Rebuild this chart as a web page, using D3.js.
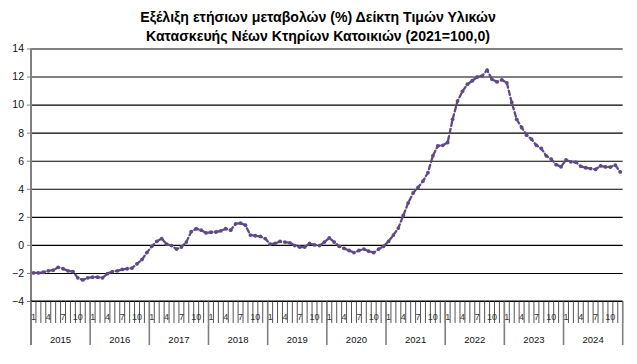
<!DOCTYPE html>
<html><head><meta charset="utf-8">
<script src="https://cdn.jsdelivr.net/npm/d3@7"></script>
<style>body{margin:0;background:#fff;} svg{display:block;}</style>
</head><body><svg id="c" width="637" height="364"></svg>
<script>
const titleLines = [
  "Εξέλιξη ετήσιων μεταβολών (%) Δείκτη Τιμών Υλικών",
  "Κατασκευής Νέων Κτηρίων Κατοικιών (2021=100,0)"
];
const years = [2015, 2016, 2017, 2018, 2019, 2020, 2021, 2022, 2023, 2024];
const monthLabels = ["1", "", "", "4", "", "", "7", "", "", "10", "", ""];
const yTicks = [-4, -2, 0, 2, 4, 6, 8, 10, 12, 14];

const v2015 = [-2.0, -2.0, -1.95, -1.85, -1.8, -1.6, -1.7, -1.85, -1.9, -2.35, -2.5, -2.35];
const v2016 = [-2.3, -2.3, -2.35, -2.05, -1.9, -1.85, -1.75, -1.7, -1.65, -1.35, -1.05, -0.55];
const v2017 = [-0.1, 0.25, 0.45, 0.05, -0.05, -0.3, -0.15, 0.2, 0.95, 1.15, 1.05, 0.85];
const v2018 = [0.9, 0.92, 1.0, 1.15, 1.05, 1.5, 1.55, 1.4, 0.7, 0.65, 0.6, 0.45];
const v2019 = [0.05, 0.1, 0.25, 0.2, 0.15, -0.05, -0.15, -0.15, 0.1, 0.0, -0.05, 0.2];
const v2020 = [0.5, 0.2, -0.1, -0.25, -0.4, -0.55, -0.4, -0.3, -0.45, -0.55, -0.3, -0.1];
const v2021 = [0.25, 0.7, 1.2, 2.1, 3.0, 3.7, 4.1, 4.55, 5.15, 6.35, 7.05, 7.1];
const v2022 = [7.3, 8.95, 10.25, 10.95, 11.45, 11.7, 11.97, 12.05, 12.45, 11.8, 11.62, 11.77];
const v2023 = [11.55, 10.15, 8.95, 8.37, 7.82, 7.54, 7.1, 6.87, 6.35, 6.12, 5.72, 5.57];
const v2024 = [6.06, 5.92, 5.9, 5.6, 5.5, 5.44, 5.39, 5.63, 5.56, 5.55, 5.68, 5.2];

const seriesByYear = [v2015, v2016, v2017, v2018, v2019, v2020, v2021, v2022, v2023, v2024];
const data = [];
years.forEach((yr, yi) => {
  seriesByYear[yi].forEach((v, mi) => data.push({cat: yr + "-" + (mi + 1), year: yr, month: mi, v}));
});

const svg = d3.select("#c");
const pLeft = 31, pRight = 622.7, pTop = 48.5, pBottom = 301;
const x = d3.scaleBand().domain(data.map(d => d.cat)).range([pLeft, pRight]).padding(0);
const y = d3.scaleLinear().domain([-4, 14]).range([pBottom, pTop]);
const font = "'Liberation Sans', Arial, sans-serif";
const narrow = "'Liberation Sans Narrow', 'Liberation Sans', Arial, sans-serif";

// title
const tg = svg.append("g");
titleLines.forEach((t, i) => {
  tg.append("text").attr("x", 318).attr("y", 22 + i * 19)
    .attr("text-anchor", "middle").attr("font-family", font)
    .attr("font-weight", "bold").attr("font-size", 12).attr("fill", "#000").text(t);
});
const firstW = tg.select("text").node().getComputedTextLength();
const fs = Math.min(14.5, 12 * 356 / firstW);
tg.selectAll("text").attr("font-size", fs);

// gridlines
svg.append("g").attr("transform", `translate(${pLeft},0)`)
  .call(d3.axisLeft(y).tickValues(yTicks).tickSize(-(pRight - pLeft)).tickFormat(""))
  .call(g => g.select(".domain").remove())
  .call(g => g.selectAll("line").attr("stroke", "#000").attr("stroke-width", 1.1));

// y axis with labels
svg.append("g").attr("transform", `translate(${pLeft},0)`)
  .call(d3.axisLeft(y).tickValues(yTicks).tickSize(4).tickPadding(3).tickFormat(d3.format("d")))
  .call(g => g.select(".domain").remove())
  .call(g => g.selectAll("line").attr("stroke", "#808080").attr("stroke-width", 1))
  .call(g => g.selectAll("text").attr("font-family", font).attr("font-size", 10.5).attr("fill", "#111"));

// month separators
const step = x.step();
const bounds = d3.range(0, data.length + 1).map(i => pLeft + i * step);
svg.append("g").selectAll("line").data(bounds).join("line")
  .attr("x1", d => d).attr("x2", d => d).attr("y1", pBottom).attr("y2", 323)
  .attr("stroke", "#555").attr("stroke-width", 1);

// year separators
const yearBounds = d3.range(0, years.length + 1).map(i => pLeft + i * 12 * step);
svg.append("g").selectAll("line").data(yearBounds).join("line")
  .attr("x1", d => d).attr("x2", d => d).attr("y1", pBottom).attr("y2", 345)
  .attr("stroke", "#808080").attr("stroke-width", 1.6);

// y axis line
svg.append("line").attr("x1", pLeft).attr("x2", pLeft).attr("y1", pTop).attr("y2", 345)
  .attr("stroke", "#808080").attr("stroke-width", 2);

// x axis baseline
svg.append("line").attr("x1", pLeft).attr("x2", pRight).attr("y1", pBottom).attr("y2", pBottom)
  .attr("stroke", "#000").attr("stroke-width", 1.1);

// month labels
svg.append("g").selectAll("text").data(data.filter(d => monthLabels[d.month] !== "")).join("text")
  .attr("x", d => x(d.cat) + x.bandwidth() / 2).attr("y", 320)
  .attr("text-anchor", "middle").attr("font-family", font).attr("font-size", 9)
  .attr("fill", "#333").text(d => monthLabels[d.month]);

// year labels
svg.append("g").selectAll("text").data(years).join("text")
  .attr("x", d => x(d + "-1") + 6 * step).attr("y", 343)
  .attr("text-anchor", "middle").attr("font-family", font).attr("font-size", 9.5)
  .attr("fill", "#111").text(d => d);

// series line
const lineGen = d3.line().x(d => x(d.cat) + x.bandwidth() / 2).y(d => y(d.v));
svg.append("path").datum(data).attr("d", lineGen)
  .attr("fill", "none").attr("stroke", "#5E4B85").attr("stroke-width", 2.3)
  .attr("stroke-dasharray", "4.5,3").attr("stroke-linecap", "round");
svg.append("g").selectAll("circle").data(data).join("circle")
  .attr("cx", d => x(d.cat) + x.bandwidth() / 2).attr("cy", d => y(d.v)).attr("r", 1.9)
  .attr("fill", "#5E4B85");
</script></body></html>
